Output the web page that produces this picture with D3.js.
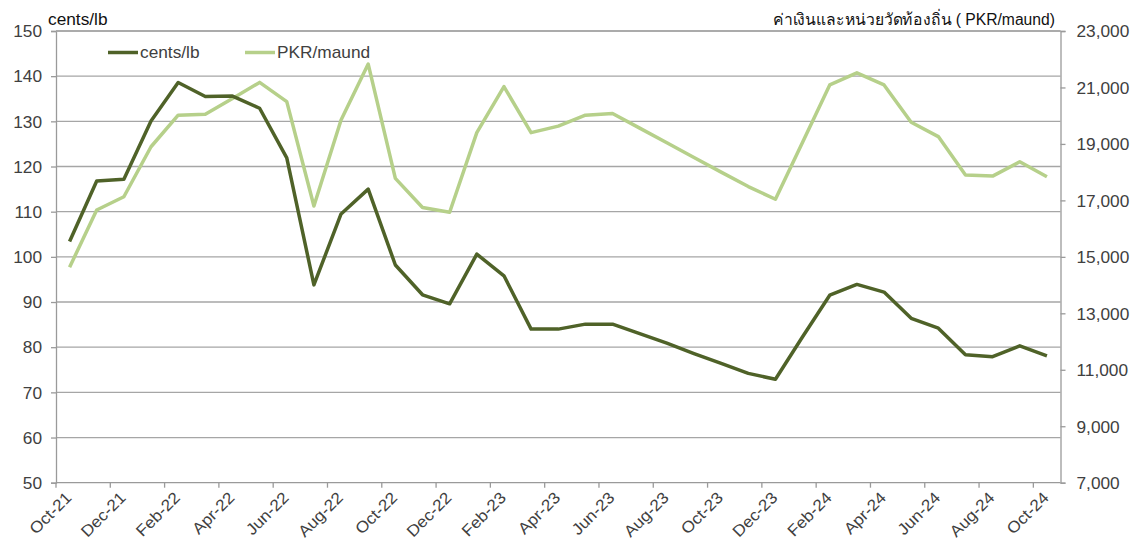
<!DOCTYPE html>
<html>
<head>
<meta charset="utf-8">
<script src="https://cdn.jsdelivr.net/npm/d3@7/dist/d3.min.js"></script>
<style>
  html, body { margin: 0; padding: 0; background: #fff; }
  svg { display: block; }
  text { font-family: "Liberation Sans", Arial, "Noto Sans", sans-serif; }
</style>
</head>
<body>
<svg id="chart" width="1138" height="548"></svg>
<script>
const months = ["Oct-21","Nov-21","Dec-21","Jan-22","Feb-22","Mar-22","Apr-22","May-22","Jun-22","Jul-22","Aug-22","Sep-22",
  "Oct-22","Nov-22","Dec-22","Jan-23","Feb-23","Mar-23","Apr-23","May-23","Jun-23","Jul-23","Aug-23","Sep-23",
  "Oct-23","Nov-23","Dec-23","Jan-24","Feb-24","Mar-24","Apr-24","May-24","Jun-24","Jul-24","Aug-24","Sep-24","Oct-24"];
const centsLb = [103.4,116.8,117.2,130.1,138.6,135.5,135.6,132.9,121.9,93.8,109.5,115.0,
  98.2,91.6,89.6,100.6,95.8,84.0,84.0,85.1,85.1,83.0,80.9,78.6,
  76.4,74.2,72.9,82.3,91.5,93.9,92.2,86.4,84.2,78.3,77.9,80.3,78.1];
const pkrMaund = [14630,16660,17130,18900,20020,20050,20610,21180,20500,16800,19850,21830,
  17780,16750,16580,19400,21030,19400,19630,20020,20080,19560,19040,18520,
  18000,17490,17040,19060,21090,21520,21090,19770,19260,17900,17860,18370,17840];
const leftTicks = [50,60,70,80,90,100,110,120,130,140,150];
const rightTicks = [7000,9000,11000,13000,15000,17000,19000,21000,23000];
const seriesNames = ["cents/lb","PKR/maund"];
const leftTitle = "cents/lb";
const rightTitle = "ค่าเงินและหน่วยวัดท้องถิ่น ( PKR/maund)";

const L = 56, R = 1060.5, T = 31, B = 482.7;
const darkC = "#4f6228", lightC = "#b6d08a", gridC = "#a6a6a6", axisC = "#9a9a9a", txtC = "#404040";
const FS = "16px", SX = 1.08;

const svg = d3.select("#chart");
const x = d3.scaleBand().domain(months).range([L, R]).padding(0);
const yL = d3.scaleLinear().domain([50,150]).range([B, T]);
const yR = d3.scaleLinear().domain([7000,23000]).range([B, T]);

function stretch(sel) {
  sel.each(function() {
    const t = d3.select(this);
    const tx = +t.attr("x") || 0, ty = +t.attr("y") || 0;
    t.attr("x", 0).attr("y", 0).attr("transform", `translate(${tx},${ty}) scale(${SX},1)`);
  });
}

// gridlines
svg.append("g").selectAll("line").data(leftTicks.slice(1)).join("line")
  .attr("x1", L).attr("x2", R).attr("y1", d => yL(d)).attr("y2", d => yL(d))
  .attr("stroke", gridC).attr("stroke-width", 1.3);

// axes
const gL = svg.append("g").attr("transform", `translate(${L},0)`)
  .call(d3.axisLeft(yL).tickValues(leftTicks).tickSize(5).tickPadding(9).tickFormat(d3.format("d")));
const gR = svg.append("g").attr("transform", `translate(${R},0)`)
  .call(d3.axisRight(yR).tickValues(rightTicks).tickSize(5).tickPadding(11).tickFormat(d3.format(",")));
const gB = svg.append("g").attr("transform", `translate(0,${B})`)
  .call(d3.axisBottom(x).tickValues(months.filter((m,i) => i % 2 === 0)).tickSize(0).tickPadding(0));
[gL, gR, gB].forEach(g => {
  g.select(".domain").attr("stroke", axisC).attr("stroke-width", 1.3);
  g.selectAll(".tick line").attr("stroke", axisC).attr("stroke-width", 1.3);
  g.selectAll(".tick text").attr("fill", txtC).style("font-size", FS)
    .style("font-family", '"Liberation Sans", Arial, sans-serif');
});
[gL, gR].forEach(g => {
  g.selectAll(".tick text").attr("dy", "0.36em").call(stretch);
});
gB.select(".domain").attr("d", `M${L},0H${R}`);
gB.selectAll(".tick text")
  .attr("text-anchor", "end").attr("dy", null).attr("y", null)
  .attr("transform", `translate(3,16) rotate(-45) scale(${SX},1)`);
gB.selectAll(".tick").append("line")
  .attr("x1", -x.bandwidth()/2).attr("x2", -x.bandwidth()/2).attr("y1", 0).attr("y2", 5)
  .attr("stroke", axisC).attr("stroke-width", 1.3);

// top border
svg.append("line").attr("x1", L).attr("x2", R).attr("y1", T).attr("y2", T)
  .attr("stroke", gridC).attr("stroke-width", 1.3);

// lines
const cx = m => x(m) + x.bandwidth()/2;
const lineL = d3.line().x((d,i) => cx(months[i])).y(d => yL(d));
const lineR = d3.line().x((d,i) => cx(months[i])).y(d => yR(d));
svg.append("path").datum(pkrMaund).attr("d", lineR).attr("fill","none")
  .attr("stroke", lightC).attr("stroke-width", 3.5).attr("stroke-linejoin","round");
svg.append("path").datum(centsLb).attr("d", lineL).attr("fill","none")
  .attr("stroke", darkC).attr("stroke-width", 3.5).attr("stroke-linejoin","round");

// titles
svg.append("text").attr("x", 48).attr("y", 25).text(leftTitle)
  .attr("fill", "#111").style("font-size", FS).call(stretch);
svg.append("text").attr("x", 773).attr("y", 25).text(rightTitle)
  .attr("textLength", 282).attr("lengthAdjust", "spacingAndGlyphs")
  .attr("fill", "#111").style("font-size", FS);

// legend
const leg = [{name: seriesNames[0], c: darkC, x: 108}, {name: seriesNames[1], c: lightC, x: 245}];
const lg = svg.append("g");
leg.forEach(d => {
  lg.append("line").attr("x1", d.x).attr("x2", d.x + 30).attr("y1", 52.5).attr("y2", 52.5)
    .attr("stroke", d.c).attr("stroke-width", 3.5);
  lg.append("text").attr("x", d.x + 32).attr("y", 58).text(d.name)
    .attr("fill", txtC).style("font-size", FS).call(stretch);
});
</script>
</body>
</html>
